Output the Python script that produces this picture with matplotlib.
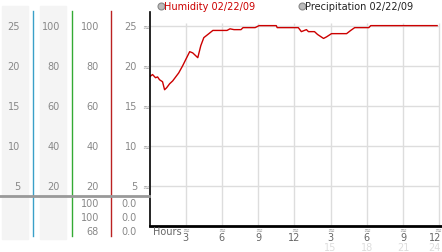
import numpy as np
import matplotlib
matplotlib.use("Agg")
import matplotlib.pyplot as plt
from matplotlib.transforms import blended_transform_factory
from matplotlib.lines import Line2D
from matplotlib.patches import Rectangle

# Data
hours = [0.0, 0.25, 0.5, 0.67, 0.83, 1.08, 1.25, 1.42, 1.67, 1.92, 2.17, 2.42,
         2.75, 3.08, 3.33, 3.58, 4.0, 4.25, 4.5, 4.92, 5.25, 6.42, 6.67, 7.0,
         7.58, 7.75, 8.75, 9.08, 10.5, 10.58, 12.33, 12.58, 13.0, 13.17, 13.67,
         13.92, 14.42, 14.67, 15.08, 16.33, 16.67, 17.0, 18.17, 18.33, 23.83]
humidity = [18.6, 18.9, 18.5, 18.6, 18.25, 18.0, 17.0, 17.25, 17.75, 18.1, 18.6,
            19.1, 20.0, 21.0, 21.75, 21.6, 21.0, 22.5, 23.5, 24.0, 24.4, 24.4,
            24.6, 24.5, 24.5, 24.75, 24.75, 25.0, 25.0, 24.75, 24.75, 24.25,
            24.5, 24.25, 24.25, 23.9, 23.4, 23.6, 24.0, 24.0, 24.4, 24.75,
            24.75, 25.0, 25.0]

scale_a = [25, 20, 15, 10, 5]
scale_pct = [100, 80, 60, 40, 20]
summary_pct = ["100", "100", "68"]
summary_precip = ["0.0", "0.0", "0.0"]

hour_ticks = [3, 6, 9, 12, 15, 18, 21, 24]
hour_labels = ["3", "6", "9", "12", "3", "6", "9", "12"]
hour_labels_24 = ["", "", "", "", "15", "18", "21", "24"]

W, H = 442, 253
fig = plt.figure(figsize=(W / 100, H / 100), dpi=100)
fig.patch.set_facecolor("white")


def fx(x):
    return x / W


def fy(y):
    return 1 - y / H


ax = fig.add_axes([fx(149.5), fy(227), fx(441 - 149.5), (227 - 13) / H])
ax.set_xlim(0, 24.15)
ax.set_ylim(0, 26.7)
for s in ["top", "right"]:
    ax.spines[s].set_visible(False)
ax.spines["left"].set_linewidth(1.2)
ax.spines["bottom"].set_linewidth(2)
ax.set_xticks([])
ax.set_yticks([])

# grid
ax.hlines(scale_a, 0, 24, color="#dddddd", lw=1, zorder=0)
ax.vlines(hour_ticks, 0, 25.3, color="#dddddd", lw=1, zorder=0)

ax.plot(hours, humidity, color="#cc0000", lw=1)

grey = "#888888"
ytr = blended_transform_factory(fig.transFigure, ax.transData)

# left panel backgrounds
for x0, x1 in [(2, 28), (40, 66)]:
    fig.add_artist(Rectangle((fx(x0), fy(240)), fx(x1 - x0), (240 - 7) / H,
                             transform=fig.transFigure, color="#f4f4f4", zorder=0))
for xc, c in [(33, "#3aa0c8"), (72, "#33aa33"), (111, "#bb2222")]:
    fig.add_artist(Line2D([fx(xc), fx(xc)], [fy(12), fy(237)],
                          transform=fig.transFigure, color=c, lw=1))
fig.add_artist(Line2D([0, fx(149)], [fy(197), fy(197)],
                      transform=fig.transFigure, color="#999999", lw=2))

for v, p in zip(scale_a, scale_pct):
    fig.text(fx(20), v, str(v), transform=ytr, ha="right", va="center",
             fontsize=7, color=grey)
    fig.text(fx(60), v, str(p), transform=ytr, ha="right", va="center",
             fontsize=7, color=grey)
    fig.text(fx(99), v, str(p), transform=ytr, ha="right", va="center",
             fontsize=7, color=grey)
    fig.text(fx(137), v, str(v), transform=ytr, ha="right", va="center",
             fontsize=7, color=grey)
    fig.text(fx(145.5), v, "≈", transform=ytr, ha="center", va="center",
             fontsize=6, color="#999999")

for i, (a, b) in enumerate(zip(summary_pct, summary_precip)):
    y = 204 + i * 14
    fig.text(fx(99), fy(y), a, ha="right", va="center", fontsize=7, color=grey)
    fig.text(fx(137), fy(y), b, ha="right", va="center", fontsize=7, color=grey)

# x tick labels
xtr = blended_transform_factory(ax.transData, fig.transFigure)
fig.text(fx(153), fy(232), "Hours", ha="left", va="center", fontsize=7, color="#666666")
for t, l1, l2 in zip(hour_ticks, hour_labels, hour_labels_24):
    if t == hour_ticks[-1]:
        tr, xpos, ha = fig.transFigure, fx(441), "right"
    else:
        tr, xpos, ha = xtr, t, "center"
    fig.text(xpos, fy(230), "≈", transform=tr, ha=ha, va="center",
             fontsize=6, color="#999999")
    fig.text(xpos, fy(238), l1, transform=tr, ha=ha, va="center",
             fontsize=7, color="#666666")
    fig.text(xpos, fy(248), l2, transform=tr, ha=ha, va="center",
             fontsize=7, color="#dddddd")

# legend
for xc in [160.5, 301.5]:
    fig.add_artist(Line2D([fx(xc)], [fy(7)], transform=fig.transFigure, marker="o",
                          markersize=5, mfc="#bbbbbb", mec="#888888", mew=0.8))
fig.text(fx(164), fy(7), "Humidity 02/22/09", ha="left", va="center",
         fontsize=7, color="#cc0000")
fig.text(fx(305), fy(7), "Precipitation 02/22/09", ha="left", va="center",
         fontsize=7, color="#222222")

fig.savefig("out.png", dpi=100)
